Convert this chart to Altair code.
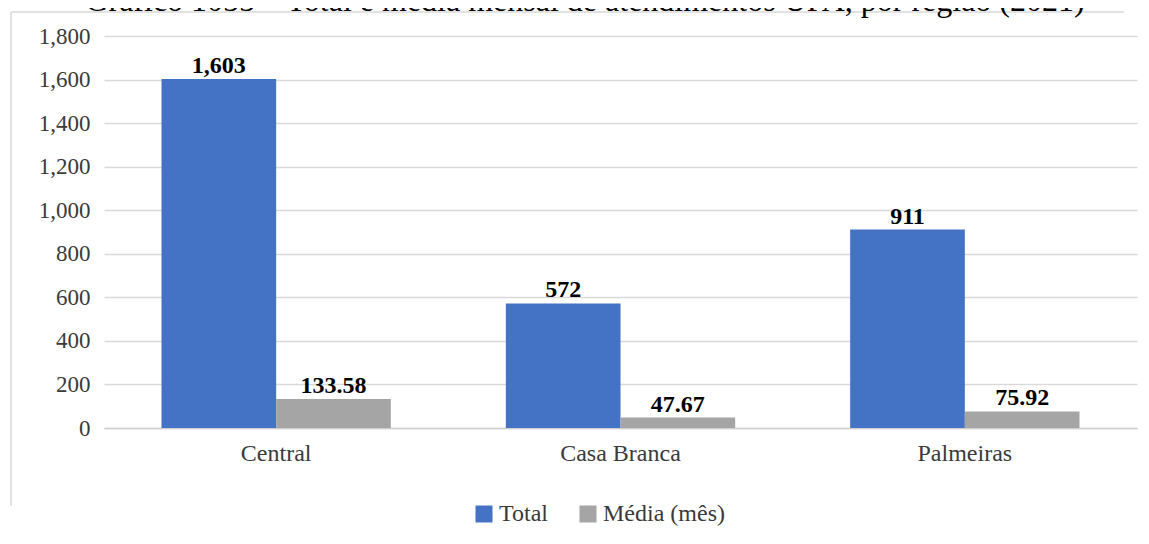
import altair as alt
import pandas as pd

# ---- data ----
regioes = ["Central", "Casa Branca", "Palmeiras"]
series = ["Total", "Média (mês)"]
total = [1603, 572, 911]
media = [133.58, 47.67, 75.92]
total_labels = ["1,603", "572", "911"]
media_labels = ["133.58", "47.67", "75.92"]
y_ticks = [0, 200, 400, 600, 800, 1000, 1200, 1400, 1600, 1800]
titulo = "Gráfico 1055 – Total e média mensal de atendimentos UPA, por região (2021)"
cores = ["#4472C4", "#A5A5A5"]

FONT = "Liberation Serif"
TXT = "#3a3a3a"

rows = []
for i, r in enumerate(regioes):
    rows.append({"regiao": r, "serie": series[0], "valor": total[i], "rotulo": total_labels[i]})
    rows.append({"regiao": r, "serie": series[1], "valor": media[i], "rotulo": media_labels[i]})
df = pd.DataFrame(rows)

base = alt.Chart(df).encode(
    x=alt.X(
        "regiao:N",
        sort=regioes,
        scale=alt.Scale(paddingInner=0.334, paddingOuter=0.167),
        axis=alt.Axis(
            title=None, labelAngle=0, labelFont=FONT, labelFontSize=24,
            labelColor=TXT, labelPadding=13, ticks=False, domain=True,
            domainColor="#d0d0d0", domainWidth=1.5, grid=False,
        ),
    ),
    xOffset=alt.XOffset("serie:N", sort=series,
                        scale=alt.Scale(paddingInner=0, paddingOuter=0)),
    y=alt.Y(
        "valor:Q",
        scale=alt.Scale(domain=[0, 1800], nice=False),
        axis=alt.Axis(
            title=None, values=y_ticks, format=",d", labelFont=FONT,
            labelFontSize=23, labelColor=TXT, labelPadding=14, ticks=False,
            domain=False, grid=True, gridColor="#d9d9d9", gridWidth=1.3,
        ),
    ),
)

bars = base.mark_bar().encode(
    color=alt.Color(
        "serie:N",
        sort=series,
        scale=alt.Scale(domain=series, range=cores),
        legend=alt.Legend(
            title=None, orient="none", legendX=368, legendY=466,
            direction="horizontal", symbolType="square", symbolSize=289,
            symbolStrokeWidth=0, labelFont=FONT, labelFontSize=24,
            labelColor=TXT, labelOffset=3, columnPadding=28, padding=0,
        ),
    )
)

labels = base.mark_text(
    dy=-6, font=FONT, fontSize=24, fontWeight="bold", color="#000000",
    baseline="alphabetic", align="center",
).encode(text="rotulo:N")

one = pd.DataFrame({"k": [0]})
frame_left = alt.Chart(one).mark_rule(color="#d9d9d9", strokeWidth=1.5).encode(
    x=alt.value(-93), y=alt.value(-24), y2=alt.value(470)
)
frame_top = alt.Chart(one).mark_rule(color="#d9d9d9", strokeWidth=1.5).encode(
    x=alt.value(-93), x2=alt.value(1020), y=alt.value(-24)
)

title = alt.Chart(pd.DataFrame({"t": [titulo]})).mark_text(
    font=FONT, fontSize=32, color="#000000", align="center", baseline="alphabetic"
).encode(text="t:N", x=alt.value(481), y=alt.value(-25))

chart = alt.layer(frame_left, frame_top, title, bars, labels).properties(
    width=1033,
    height=392,
    background="white",
    autosize=alt.AutoSizeParams(type="none"),
    padding={"left": 96, "top": 28, "right": 4, "bottom": 100},
).configure(font=FONT).configure_view(stroke=None).configure_axis(
    labelFont=FONT
).configure_legend(labelFont=FONT)

chart.save("out.html", embed_options={"renderer": "svg", "actions": False})
